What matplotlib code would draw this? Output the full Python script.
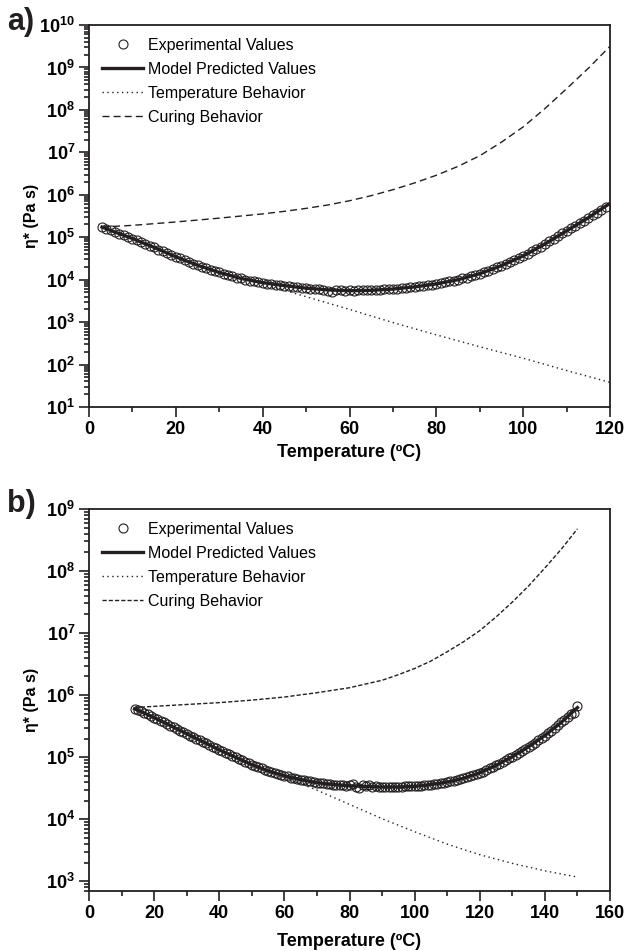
"""Complex viscosity vs temperature: experimental, model, temperature and curing terms."""
import numpy as np
import matplotlib
matplotlib.use("Agg")
import matplotlib.pyplot as plt
from matplotlib.ticker import FixedLocator, LogLocator, NullFormatter, FuncFormatter

plt.rcParams.update({
    "font.family": ["Liberation Sans", "DejaVu Sans"],
    "mathtext.fontset": "custom",
    "mathtext.rm": "Liberation Sans",
    "mathtext.bf": "Liberation Sans:bold",
    "font.size": 12,
})

INK = "#231f20"

# ---- panel a (values stored as log10 of eta*, Pa s) ----
T_exp_a = list(range(3, 120))
exp_a_log = [
    5.24, 5.20, 5.16, 5.12, 5.08, 5.05, 5.01, 4.97, 4.93, 4.88,
    4.84, 4.80, 4.76, 4.71, 4.67, 4.62, 4.58, 4.54, 4.50, 4.46,
    4.42, 4.38, 4.34, 4.30, 4.27, 4.23, 4.20, 4.17, 4.14, 4.11,
    4.08, 4.05, 4.03, 4.00, 3.98, 3.96, 3.94, 3.93, 3.91, 3.90,
    3.88, 3.87, 3.86, 3.84, 3.83, 3.82, 3.81, 3.80, 3.79, 3.78,
    3.77, 3.76, 3.74, 3.72, 3.75, 3.75, 3.74, 3.75, 3.74, 3.75,
    3.75, 3.75, 3.76, 3.76, 3.76, 3.77, 3.78, 3.79, 3.79, 3.80,
    3.81, 3.82, 3.83, 3.84, 3.85, 3.87, 3.88, 3.90, 3.92, 3.94,
    3.96, 3.98, 4.00, 4.03, 4.05, 4.08, 4.11, 4.14, 4.18, 4.21,
    4.25, 4.29, 4.33, 4.37, 4.42, 4.46, 4.51, 4.56, 4.61, 4.67,
    4.72, 4.78, 4.84, 4.90, 4.96, 5.02, 5.09, 5.15, 5.21, 5.27,
    5.33, 5.39, 5.45, 5.52, 5.58, 5.65, 5.72,
]
T_model_a = [3, 5, 10, 15, 20, 25, 30, 35, 40, 45, 50, 55, 60, 65, 70, 75,
             80, 85, 90, 95, 100, 105, 110, 115, 120]
model_a_log = [5.24, 5.16, 4.97, 4.76, 4.54, 4.34, 4.17, 4.03, 3.93, 3.86,
               3.80, 3.76, 3.74, 3.75, 3.78, 3.83, 3.90, 4.00, 4.14, 4.33,
               4.56, 4.84, 5.15, 5.46, 5.80]
T_temp_a = [3, 10, 20, 30, 40, 50, 60, 70, 80, 90, 100, 110, 120]
temp_a_log = [5.24, 4.97, 4.54, 4.17, 3.90, 3.60, 3.30, 2.99, 2.70, 2.42,
              2.15, 1.86, 1.58]
T_cure_a = [3, 10, 20, 30, 40, 45, 50, 55, 60, 65, 70, 75, 80, 85, 90, 95,
            100, 105, 110, 115, 120]
cure_a_log = [5.24, 5.28, 5.36, 5.45, 5.55, 5.61, 5.68, 5.76, 5.86, 5.98,
              6.12, 6.28, 6.46, 6.67, 6.92, 7.24, 7.60, 8.03, 8.50, 8.98, 9.50]

# ---- panel b ----
T_exp_b = list(range(14, 151))
exp_b_log = [
    5.78, 5.76, 5.74, 5.71, 5.69, 5.66, 5.64, 5.61, 5.59, 5.56,
    5.53, 5.51, 5.48, 5.46, 5.43, 5.41, 5.38, 5.35, 5.33, 5.30,
    5.28, 5.25, 5.23, 5.20, 5.17, 5.15, 5.12, 5.10, 5.07, 5.05,
    5.02, 5.00, 4.97, 4.95, 4.93, 4.90, 4.88, 4.86, 4.84, 4.82,
    4.80, 4.78, 4.76, 4.75, 4.73, 4.71, 4.70, 4.69, 4.67, 4.66,
    4.65, 4.64, 4.63, 4.62, 4.61, 4.60, 4.59, 4.59, 4.58, 4.57,
    4.57, 4.56, 4.56, 4.55, 4.55, 4.54, 4.55, 4.57, 4.52, 4.51,
    4.55, 4.53, 4.55, 4.52, 4.53, 4.52, 4.52, 4.52, 4.52, 4.52,
    4.52, 4.52, 4.52, 4.53, 4.53, 4.53, 4.53, 4.54, 4.54, 4.55,
    4.55, 4.56, 4.57, 4.57, 4.58, 4.59, 4.60, 4.61, 4.62, 4.64,
    4.65, 4.66, 4.68, 4.70, 4.71, 4.73, 4.75, 4.77, 4.79, 4.82,
    4.84, 4.87, 4.89, 4.92, 4.95, 4.98, 5.01, 5.04, 5.07, 5.10,
    5.13, 5.17, 5.20, 5.23, 5.27, 5.31, 5.35, 5.39, 5.43, 5.47,
    5.52, 5.56, 5.60, 5.65, 5.69, 5.72, 5.82,
]
T_model_b = [14, 20, 25, 30, 35, 40, 45, 50, 55, 60, 65, 70, 75, 80, 85, 90,
             95, 100, 105, 110, 115, 120, 125, 130, 135, 140, 145, 150]
model_b_log = [5.78, 5.64, 5.51, 5.38, 5.25, 5.12, 5.00, 4.88, 4.78, 4.70,
               4.64, 4.59, 4.56, 4.54, 4.53, 4.52, 4.52, 4.53, 4.56, 4.60,
               4.66, 4.75, 4.87, 5.01, 5.17, 5.35, 5.56, 5.80]
T_temp_b = [14, 20, 30, 40, 50, 60, 70, 80, 90, 100, 110, 120, 130, 140, 150]
temp_b_log = [5.78, 5.62, 5.37, 5.12, 4.90, 4.68, 4.47, 4.24, 4.01, 3.80,
              3.60, 3.43, 3.29, 3.17, 3.07]
T_cure_b = [14, 20, 30, 40, 50, 60, 70, 80, 90, 95, 100, 105, 110, 115, 120,
            125, 130, 135, 140, 145, 150]
cure_b_log = [5.80, 5.82, 5.85, 5.88, 5.92, 5.97, 6.04, 6.12, 6.24, 6.33,
              6.43, 6.55, 6.70, 6.86, 7.04, 7.26, 7.50, 7.76, 8.05, 8.35, 8.68]

LABELS = ["Experimental Values", "Model Predicted Values",
          "Temperature Behavior", "Curing Behavior"]


def pow10(v, pos):
    return r"$\mathbf{10^{%d}}$" % int(round(np.log10(v)))


def draw_panel(ax, d, xmax, ylim, cure_dash, xlab_y):
    ax.plot(d["Te"], 10 ** np.array(d["exp"]), "o", ms=6.5, mfc="none",
            mec=INK, mew=0.8, label=LABELS[0])
    ax.plot(d["Tm"], 10 ** np.array(d["model"]), "-", color=INK, lw=2.4,
            label=LABELS[1])
    ax.plot(d["Tt"], 10 ** np.array(d["temp"]), color=INK, lw=1.0,
            ls=(0, (1, 2.5)), label=LABELS[2])
    ax.plot(d["Tc"], 10 ** np.array(d["cure"]), color=INK, lw=1.0,
            ls=(0, cure_dash), label=LABELS[3])

    ax.set_yscale("log")
    ax.set_xlim(0, xmax)
    ax.set_ylim(*ylim)
    ax.xaxis.set_major_locator(FixedLocator(np.arange(0, xmax + 1, 20)))
    ax.xaxis.set_minor_locator(FixedLocator(np.arange(10, xmax, 20)))
    ax.yaxis.set_major_locator(LogLocator(base=10, numticks=20))
    ax.yaxis.set_minor_locator(LogLocator(base=10, subs=np.arange(2, 10), numticks=20))
    ax.yaxis.set_major_formatter(FuncFormatter(pow10))
    ax.yaxis.set_minor_formatter(NullFormatter())
    ax.tick_params(which="both", direction="out", color=INK, width=1.2,
                   top=False, right=False)
    ax.tick_params(which="major", length=7, labelsize=13, pad=3)
    ax.tick_params(which="minor", length=3.5)
    for lab in ax.get_xticklabels():
        lab.set_fontweight("bold")
    for sp in ax.spines.values():
        sp.set_linewidth(1.3)
        sp.set_color(INK)

    ax.set_xlabel("Temperature (ºC)", fontsize=13, fontweight="bold")
    ax.xaxis.set_label_coords(0.5, xlab_y)
    ax.set_ylabel("η* (Pa s)", fontsize=11.5, fontweight="bold")
    ax.yaxis.set_label_coords(-0.095, 0.5)
    ax.legend(loc="upper left", frameon=False, numpoints=1, fontsize=11.5,
              handlelength=2.6, handletextpad=0.3, labelspacing=0.56,
              borderaxespad=0.3, borderpad=0.5)


fig = plt.figure(figsize=(6.24, 9.51), dpi=100)
ax_a = fig.add_axes([0.1426, 0.572, 0.835, 0.4017])
ax_b = fig.add_axes([0.1426, 0.0631, 0.835, 0.4017])

draw_panel(ax_a, dict(Te=T_exp_a, exp=exp_a_log, Tm=T_model_a, model=model_a_log,
                      Tt=T_temp_a, temp=temp_a_log, Tc=T_cure_a, cure=cure_a_log),
           120, (1e1, 1e10), (5, 3), -0.097)
draw_panel(ax_b, dict(Te=T_exp_b, exp=exp_b_log, Tm=T_model_b, model=model_b_log,
                      Tt=T_temp_b, temp=temp_b_log, Tc=T_cure_b, cure=cure_b_log),
           160, (7e2, 1e9), (3, 1.5), -0.111)

fig.text(0.012, 0.968, "a)", fontsize=22, fontweight="bold", color=INK)
fig.text(0.012, 0.462, "b)", fontsize=22, fontweight="bold", color=INK)

fig.savefig("out.png", dpi=100)
